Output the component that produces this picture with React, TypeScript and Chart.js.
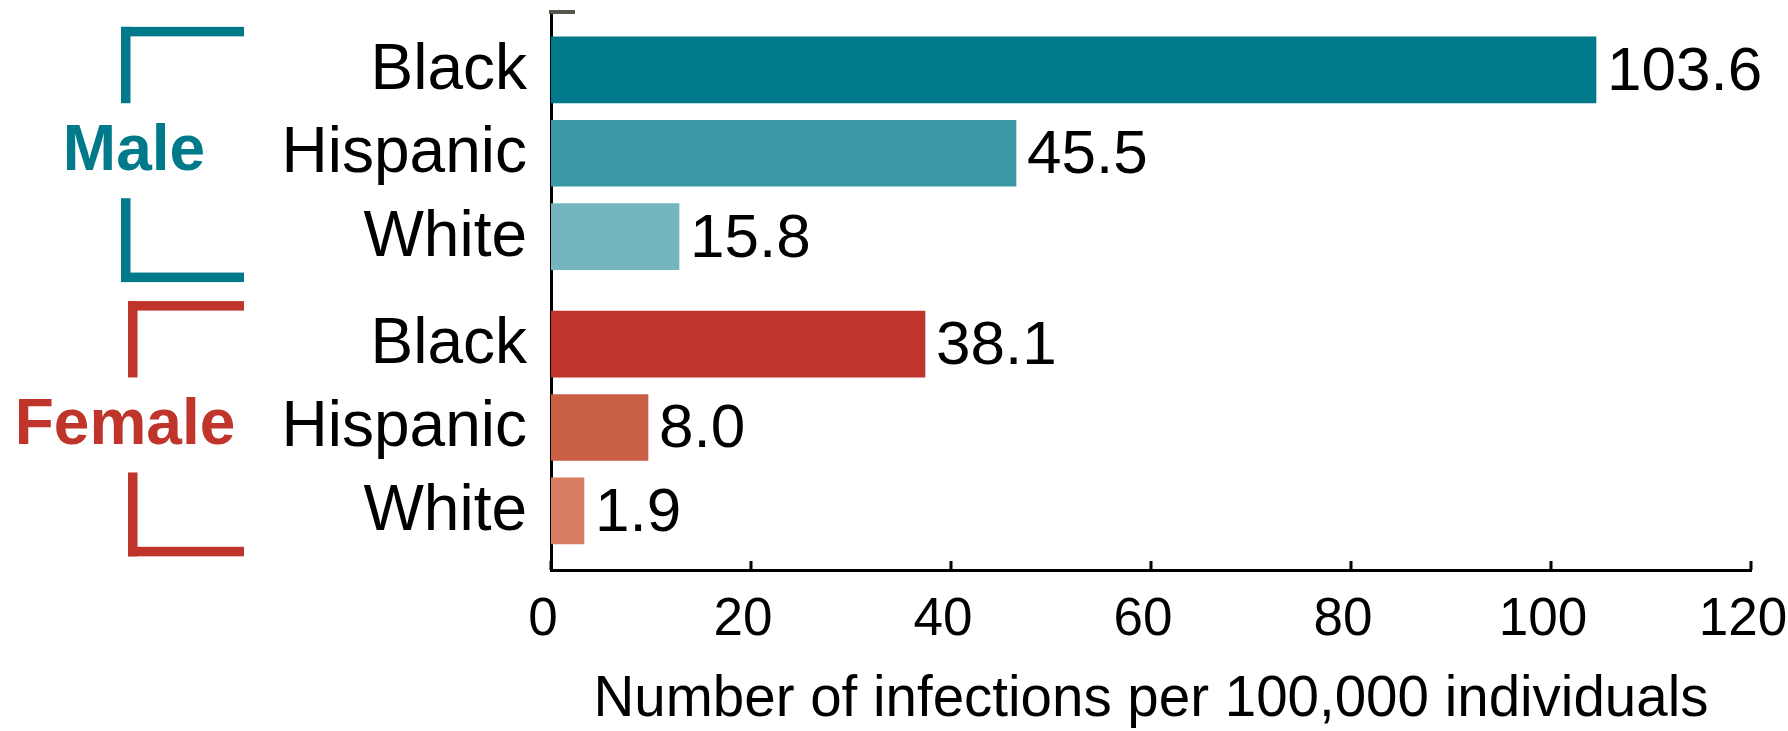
import React, { useEffect, useRef } from 'react';
import { Chart, registerables } from 'chart.js';

Chart.register(...registerables);

// ---- data ----
const groups = ['Male', 'Female'];
const categories = ['Black', 'Hispanic', 'White', 'Black', 'Hispanic', 'White'];
const groupOfBar = [0, 0, 0, 1, 1, 1];
// bar lengths as drawn in the picture
const barValues = [104.5, 46.5, 12.8, 37.4, 9.7, 3.3];
// value labels as printed next to the bars
const valueLabels = ['103.6', '45.5', '15.8', '38.1', '8.0', '1.9'];
const xTickValues = [0, 20, 40, 60, 80, 100, 120];
const xTitle = 'Number of infections per 100,000 individuals';

// ---- styles ----
const FONT = '"Liberation Sans", Arial, Helvetica, sans-serif';
const barColors = ['#007A8A', '#3A97A3', '#74B5BF', '#C0352B', '#C95F45', '#D67D62'];
const groupColors = ['#007A8A', '#C0352B'];
const bracketLeft = [121, 128];
const groupLabelX = [134, 125];
const GROUP_GAP = 0.29;
const BAR_H = 66;

const annotate = {
  id: 'annotate',
  afterDatasetsDraw(chart: any) {
    const ctx = chart.ctx as CanvasRenderingContext2D;
    const meta = chart.getDatasetMeta(0);
    const area = chart.chartArea;
    const xs = chart.scales.x;
    ctx.save();

    // inward tick marks on the x axis
    ctx.strokeStyle = '#000';
    ctx.lineWidth = 3;
    xs.ticks.forEach((t: any) => {
      const px = xs.getPixelForValue(t.value);
      ctx.beginPath();
      ctx.moveTo(px, area.bottom);
      ctx.lineTo(px, area.bottom - 9);
      ctx.stroke();
    });

    // small cap at the top of the y axis
    ctx.fillStyle = '#56554B';
    ctx.fillRect(area.left - 2, area.top - 4, 26, 4);

    // category labels and value labels
    ctx.fillStyle = '#000';
    ctx.textBaseline = 'alphabetic';
    meta.data.forEach((bar: any, i: number) => {
      ctx.font = `64px ${FONT}`;
      ctx.textAlign = 'right';
      ctx.fillText(categories[i], area.left - 24, bar.y + 19);
      ctx.font = `62px ${FONT}`;
      ctx.textAlign = 'left';
      ctx.fillText(valueLabels[i], bar.x + 11, bar.y + 20);
    });

    // group brackets and labels
    groups.forEach((g, gi) => {
      const idx = groupOfBar.map((v, i) => (v === gi ? i : -1)).filter((i) => i >= 0);
      const first = meta.data[idx[0]];
      const last = meta.data[idx[idx.length - 1]];
      const mid = meta.data[idx[Math.floor(idx.length / 2)]];
      const top = first.y - BAR_H / 2 - 10;
      const bottom = last.y + BAR_H / 2 + 12.5;
      const left = bracketLeft[gi];
      const right = 244;
      const th = 9.5;
      ctx.fillStyle = groupColors[gi];
      ctx.fillRect(left, top, right - left, th);
      ctx.fillRect(left, top, th, mid.y - 50 - top);
      ctx.fillRect(left, mid.y + 45, th, bottom - (mid.y + 45));
      ctx.fillRect(left, bottom - th, right - left, th);
      ctx.font = `bold 64px ${FONT}`;
      ctx.textAlign = 'center';
      ctx.fillText(g, groupLabelX[gi], mid.y + 17);
    });

    ctx.restore();
  },
};

export default function App() {
  const ref = useRef<HTMLCanvasElement | null>(null);

  useEffect(() => {
    if (!ref.current) return;
    const positions = categories.map((_, i) => i + groupOfBar[i] * GROUP_GAP);
    const chart = new Chart(ref.current, {
      type: 'bar',
      data: {
        datasets: [
          {
            data: barValues.map((v, i) => ({ x: v, y: positions[i] })) as any,
            backgroundColor: barColors,
            borderWidth: 0,
            barThickness: BAR_H,
          },
        ],
      },
      plugins: [annotate],
      options: {
        animation: false,
        responsive: false,
        devicePixelRatio: 1,
        indexAxis: 'y',
        layout: { padding: { left: 551, right: 37, top: 14, bottom: 0 } },
        plugins: { legend: { display: false }, tooltip: { enabled: false } },
        scales: {
          x: {
            type: 'linear',
            min: 0,
            max: 120,
            offset: false,
            afterBuildTicks: (s: any) => {
              s.ticks = xTickValues.map((v) => ({ value: v }));
            },
            afterFit: (s: any) => {
              s.height = 161;
              s.paddingLeft = 0;
              s.paddingRight = 0;
            },
            grid: { display: false, drawTicks: false, offset: false },
            border: { display: true, color: '#000', width: 3 },
            ticks: {
              color: '#000',
              font: { family: FONT, size: 53 },
              padding: 19,
              labelOffset: -8,
              maxRotation: 0,
              autoSkip: false,
            },
            title: {
              display: true,
              text: xTitle,
              color: '#000',
              font: { family: FONT, size: 56.5, lineHeight: 1.1 },
              padding: { top: 0, bottom: 0 },
            },
          },
          y: {
            type: 'linear',
            reverse: true,
            offset: false,
            min: -0.67,
            max: 6.0,
            afterFit: (s: any) => {
              s.width = 0;
              s.paddingTop = 0;
              s.paddingBottom = 0;
            },
            ticks: { display: false },
            grid: { display: false, drawTicks: false, offset: false },
            border: { display: true, color: '#000', width: 3 },
          },
        },
      } as any,
    });
    return () => chart.destroy();
  }, []);

  return (
    <div style={{ position: 'fixed', left: 0, top: 0, width: 1788, height: 731, background: '#fff' }}>
      <canvas ref={ref} width={1788} height={731} style={{ display: 'block' }} />
    </div>
  );
}
